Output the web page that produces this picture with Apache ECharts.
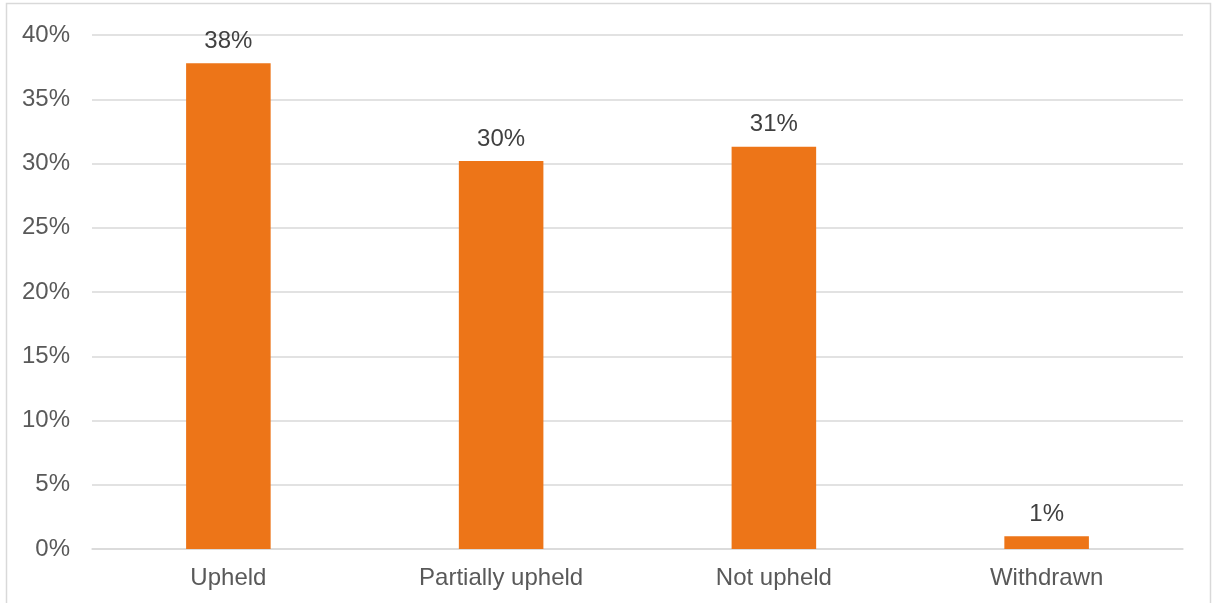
<!DOCTYPE html>
<html>
<head>
<meta charset="utf-8">
<script src="https://cdn.jsdelivr.net/npm/echarts@6/dist/echarts.min.js"></script>
<style>
  html, body { margin: 0; padding: 0; background: #fff; }
  #chart { width: 1212px; height: 603px; }
</style>
</head>
<body>
<div id="chart"></div>
<script>
// Complaint outcomes, share of cases (%)
const categories = ['Upheld', 'Partially upheld', 'Not upheld', 'Withdrawn'];
const shares = [37.8, 30.2, 31.3, 1.0];
const yTicks = [0, 5, 10, 15, 20, 25, 30, 35, 40];

const textColor = '#595959';
const gridColor = '#d9d9d9';
const barColor = '#ED7518';
const fontFamily = '"Liberation Sans", Arial, sans-serif';
const fontSize = 24;

const chart = echarts.init(document.getElementById('chart'), null, { renderer: 'canvas' });

chart.setOption({
  animation: false,
  backgroundColor: '#fff',
  graphic: [{
    type: 'rect',
    shape: { x: 6.5, y: 3.5, width: 1204, height: 620 },
    style: { fill: 'none', stroke: gridColor, lineWidth: 1.5 },
    silent: true,
    z: -1
  }],
  grid: { left: 92, right: 29, top: 35, bottom: 54, containLabel: false },
  xAxis: {
    type: 'category',
    data: categories,
    axisTick: { show: false },
    axisLine: { show: true, lineStyle: { color: gridColor, width: 1.5 } },
    axisLabel: { color: textColor, fontSize: fontSize, fontFamily: fontFamily, margin: 17 }
  },
  yAxis: {
    type: 'value',
    min: yTicks[0],
    max: yTicks[yTicks.length - 1],
    interval: yTicks[1] - yTicks[0],
    axisLine: { show: false },
    axisTick: { show: false },
    splitLine: { lineStyle: { color: gridColor, width: 1.5 } },
    axisLabel: {
      color: textColor, fontSize: fontSize, fontFamily: fontFamily, margin: 22,
      formatter: v => v + '%'
    }
  },
  series: [{
    type: 'bar',
    data: shares,
    barWidth: '31%',
    itemStyle: { color: barColor },
    label: {
      show: true,
      position: 'top',
      distance: 10,
      color: '#404040',
      fontSize: fontSize,
      fontFamily: fontFamily,
      formatter: p => Math.round(p.value) + '%'
    }
  }]
});
</script>
</body>
</html>
